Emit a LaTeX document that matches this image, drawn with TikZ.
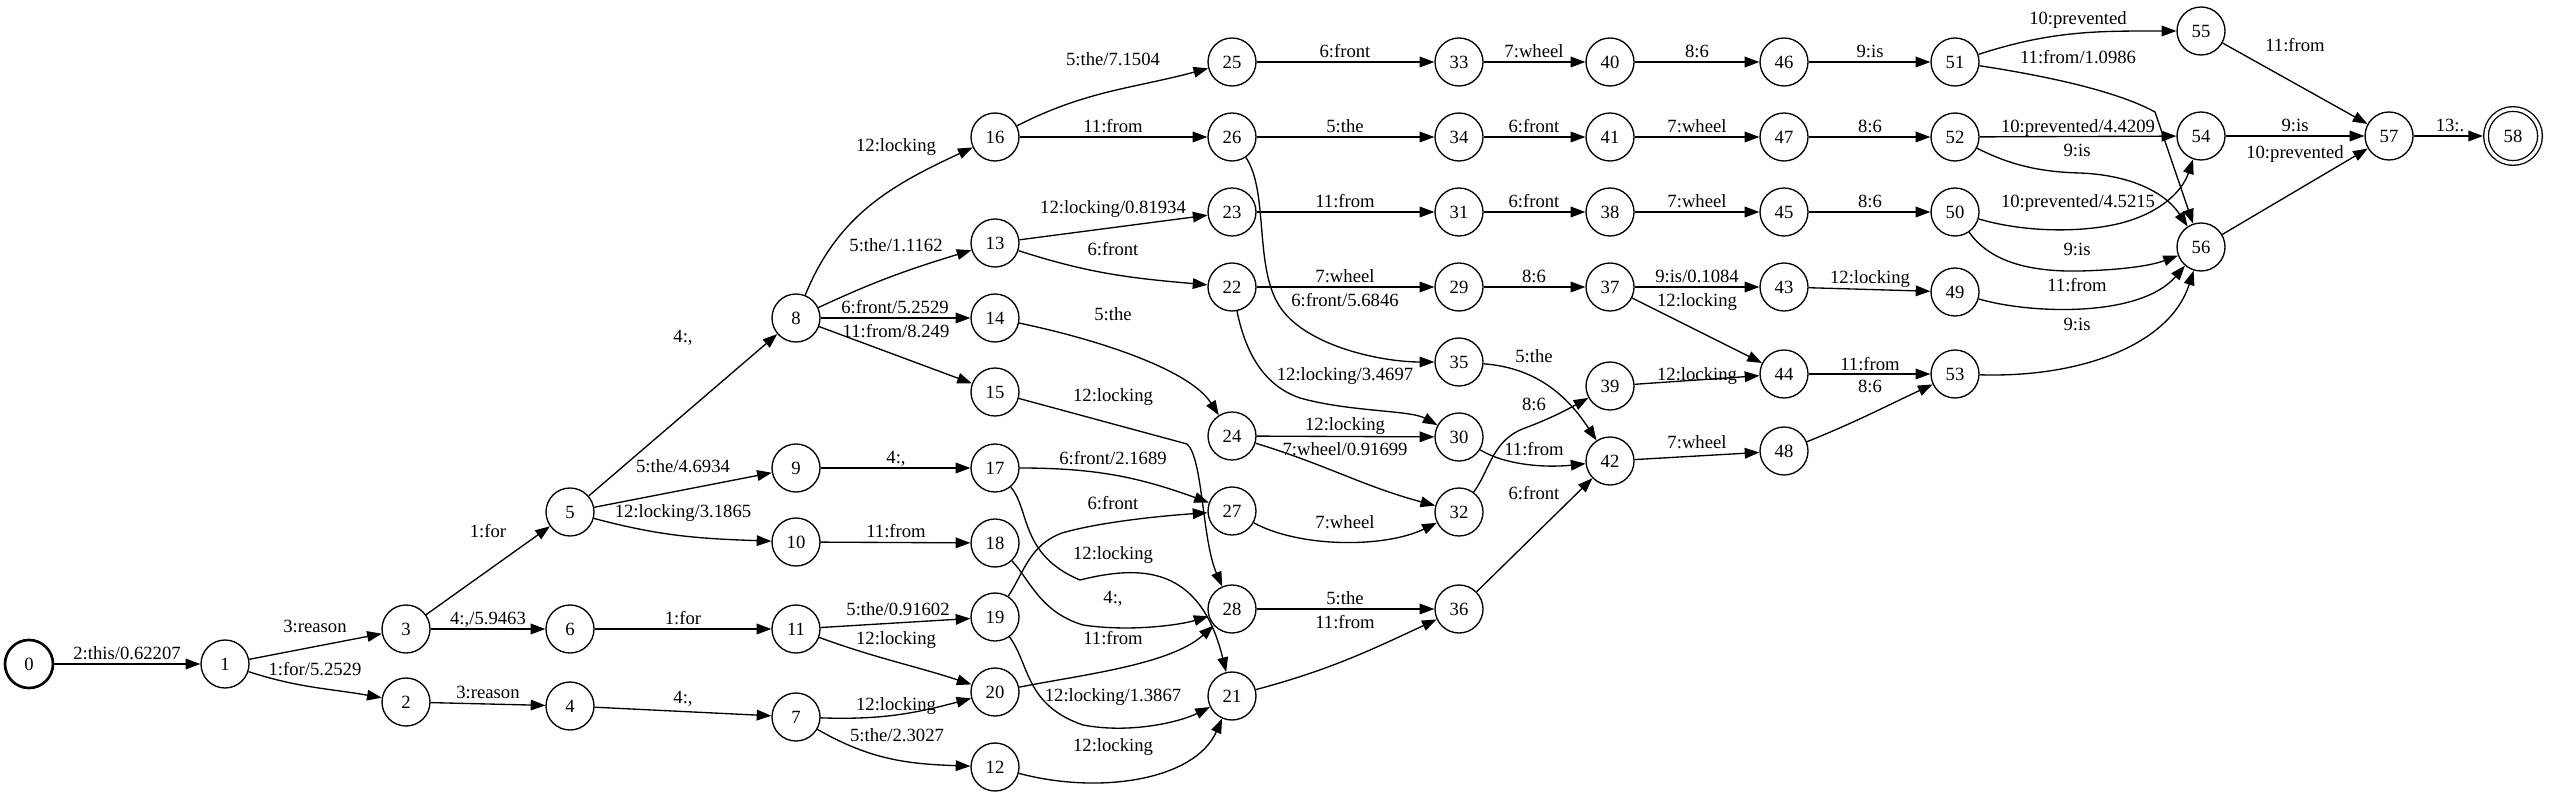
\documentclass[tikz,border=0pt]{standalone}
\usepackage{fontspec}
\setmainfont{Liberation Serif}
\usetikzlibrary{arrows.meta}
\begin{document}
\begin{tikzpicture}[x=0.75pt,y=-0.75pt,
  st/.style={circle,draw,line width=1pt,minimum size=36pt,inner sep=0pt,font=\fontsize{14}{16}\selectfont},
  ini/.style={st,line width=2pt},
  fin/.style={st,minimum size=40.5pt,double,double distance=2.5pt,outer sep=2.25pt},
  edge/.style={-{Triangle[length=11pt,width=8pt]},line width=1pt},
  lbl/.style={font=\fontsize{14}{16}\selectfont,inner sep=0pt,text height=10pt,text depth=3pt}]
\useasboundingbox (0,0) rectangle (2550,798);
% states
\node[ini] (n0) at (29,664) {0};
\node[st] (n1) at (225,664) {1};
\node[st] (n3) at (406,629) {3};
\node[st] (n2) at (406,702) {2};
\node[st] (n5) at (570,512) {5};
\node[st] (n6) at (570,629) {6};
\node[st] (n4) at (570,706) {4};
\node[st] (n8) at (796,318) {8};
\node[st] (n9) at (796,468) {9};
\node[st] (n10) at (796,542) {10};
\node[st] (n11) at (796,629) {11};
\node[st] (n7) at (796,717) {7};
\node[st] (n16) at (995,137) {16};
\node[st] (n13) at (995,243) {13};
\node[st] (n14) at (995,318) {14};
\node[st] (n15) at (995,392) {15};
\node[st] (n17) at (995,468) {17};
\node[st] (n18) at (995,543) {18};
\node[st] (n19) at (995,617) {19};
\node[st] (n20) at (995,692) {20};
\node[st] (n12) at (995,767) {12};
\node[st] (n25) at (1232,62) {25};
\node[st] (n26) at (1232,137) {26};
\node[st] (n23) at (1232,212) {23};
\node[st] (n22) at (1232,287) {22};
\node[st] (n24) at (1232,436) {24};
\node[st] (n27) at (1232,511) {27};
\node[st] (n28) at (1232,609) {28};
\node[st] (n21) at (1232,696) {21};
\node[st] (n33) at (1459,62) {33};
\node[st] (n34) at (1459,137) {34};
\node[st] (n31) at (1459,212) {31};
\node[st] (n29) at (1459,287) {29};
\node[st] (n35) at (1459,362) {35};
\node[st] (n30) at (1459,437) {30};
\node[st] (n32) at (1459,512) {32};
\node[st] (n36) at (1459,609) {36};
\node[st] (n40) at (1610,62) {40};
\node[st] (n41) at (1610,137) {41};
\node[st] (n38) at (1610,212) {38};
\node[st] (n37) at (1610,287) {37};
\node[st] (n39) at (1610,386) {39};
\node[st] (n42) at (1610,461) {42};
\node[st] (n46) at (1784,62) {46};
\node[st] (n47) at (1784,137) {47};
\node[st] (n45) at (1784,212) {45};
\node[st] (n43) at (1784,287) {43};
\node[st] (n44) at (1784,374) {44};
\node[st] (n48) at (1784,451) {48};
\node[st] (n51) at (1955,62) {51};
\node[st] (n52) at (1955,137) {52};
\node[st] (n50) at (1955,212) {50};
\node[st] (n49) at (1955,292) {49};
\node[st] (n53) at (1955,374) {53};
\node[st] (n55) at (2201,31) {55};
\node[st] (n54) at (2201,136) {54};
\node[st] (n56) at (2201,247) {56};
\node[st] (n57) at (2389,136) {57};
\node[fin] (n58) at (2513,136) {58};
% arcs
\draw[edge] (n0) -- (n1);
\draw[edge] (n1) -- (n3);
\draw[edge] (n1) to[out=-18,in=170] (n2);
\draw[edge] (n3) -- (n5);
\draw[edge] (n3) -- (n6);
\draw[edge] (n2) -- (n4);
\draw[edge] (n5) -- (n8);
\draw[edge] (n5) -- (n9);
\draw[edge] (n5) to[out=-15,in=178] (n10);
\draw[edge] (n6) -- (n11);
\draw[edge] (n4) -- (n7);
\draw[edge] (n8) to[out=68,in=205] (n16);
\draw[edge] (n8) to[out=25,in=197] (n13);
\draw[edge] (n8) -- (n14);
\draw[edge] (n8) -- (n15);
\draw[edge] (n9) -- (n17);
\draw[edge] (n10) -- (n18);
\draw[edge] (n11) -- (n19);
\draw[edge] (n11) to[out=-20,in=162] (n20);
\draw[edge] (n7) to[out=-2,in=195] (n20);
\draw[edge] (n7) to[out=-30,in=178] (n12);
\draw[edge] (n16) to[out=27,in=195] (n25);
\draw[edge] (n16) -- (n26);
\draw[edge] (n13) -- (n23);
\draw[edge] (n13) to[out=-18,in=175] (n22);
\draw[edge] (n14) .. controls (1100,340) and (1190,370) .. (n24);
\draw[edge] (n15) -- (1187,444) .. controls (1203,458) and (1202,540) .. (n28);
\draw[edge] (n17) to[out=0,in=160] (n27);
\draw[edge] (n17) .. controls (1030,510) and (1020,555) .. (1080,580) .. controls (1140,565) and (1200,565) .. (n21);
\draw[edge] (n18) .. controls (1030,580) and (1040,612) .. (1083,625) .. controls (1130,632) and (1180,625) .. (n28);
\draw[edge] (n19) .. controls (1025,570) and (1030,545) .. (1062,533) .. controls (1100,522) and (1160,516) .. (n27);
\draw[edge] (n19) .. controls (1030,665) and (1025,705) .. (1083,725) .. controls (1130,734) and (1180,722) .. (n21);
\draw[edge] (n20) .. controls (1080,675) and (1170,665) .. (n28);
\draw[edge] (n12) .. controls (1100,795) and (1195,780) .. (n21);
\draw[edge] (n25) -- (n33);
\draw[edge] (n26) -- (n34);
\draw[edge] (n23) -- (n31);
\draw[edge] (n22) -- (n29);
\draw[edge] (n26) .. controls (1268,190) and (1255,262) .. (1277,302) .. controls (1300,345) and (1380,362) .. (n35);
\draw[edge] (n22) .. controls (1245,350) and (1262,385) .. (1300,398) .. controls (1350,412) and (1410,410) .. (n30);
\draw[edge] (n24) -- (n30);
\draw[edge] (n24) to[out=-17,in=165] (n32);
\draw[edge] (n27) .. controls (1300,548) and (1385,548) .. (n32);
\draw[edge] (n28) -- (n36);
\draw[edge] (n21) to[out=15,in=205] (n36);
\draw[edge] (n33) -- (n40);
\draw[edge] (n34) -- (n41);
\draw[edge] (n31) -- (n38);
\draw[edge] (n29) -- (n37);
\draw[edge] (n35) .. controls (1540,368) and (1570,400) .. (n42);
\draw[edge] (n30) .. controls (1505,465) and (1545,468) .. (n42);
\draw[edge] (n32) .. controls (1490,470) and (1492,440) .. (1525,428) .. controls (1552,418) and (1570,408) .. (n39);
\draw[edge] (n36) -- (n42);
\draw[edge] (n40) -- (n46);
\draw[edge] (n41) -- (n47);
\draw[edge] (n38) -- (n45);
\draw[edge] (n37) -- (n43);
\draw[edge] (n37) -- (n44);
\draw[edge] (n39) -- (n44);
\draw[edge] (n42) -- (n48);
\draw[edge] (n46) -- (n51);
\draw[edge] (n47) -- (n52);
\draw[edge] (n45) -- (n50);
\draw[edge] (n43) -- (n49);
\draw[edge] (n44) -- (n53);
\draw[edge] (n48) to[out=22,in=205] (n53);
\draw[edge] (n51) to[out=18,in=180] (n55);
\draw[edge] (n51) .. controls (2040,75) and (2115,90) .. (2155,112) -- (n56);
\draw[edge] (n52) -- (n54);
\draw[edge] (n52) .. controls (2010,165) and (2040,172) .. (2080,173) .. controls (2130,175) and (2165,192) .. (n56);
\draw[edge] (n50) .. controls (2030,234) and (2090,232) .. (2125,222) .. controls (2160,212) and (2182,192) .. (n54);
\draw[edge] (n50) .. controls (1990,262) and (2030,272) .. (2080,271) .. controls (2120,270) and (2150,266) .. (n56);
\draw[edge] (n49) .. controls (2030,314) and (2140,318) .. (n56);
\draw[edge] (n53) .. controls (2080,378) and (2170,345) .. (n56);
\draw[edge] (n55) -- (n57);
\draw[edge] (n54) -- (n57);
\draw[edge] (n56) -- (n57);
\draw[edge] (n57) -- (n58);
% labels
\node[lbl] (l0-1) at (127,655) {2:this/0.62207};
\node[lbl] (l1-3) at (315,628) {3:reason};
\node[lbl] (l1-2) at (315,671) {1:for/5.2529};
\node[lbl] (l3-5) at (488,533) {1:for};
\node[lbl] (l3-6) at (488,620) {4:,/5.9463};
\node[lbl] (l2-4) at (488,694) {3:reason};
\node[lbl] (l5-8) at (683,338) {4:,};
\node[lbl] (l5-9) at (683,468) {5:the/4.6934};
\node[lbl] (l5-10) at (683,513) {12:locking/3.1865};
\node[lbl] (l6-11) at (683,620) {1:for};
\node[lbl] (l4-7) at (683,699) {4:,};
\node[lbl] (l8-16) at (896,147) {12:locking};
\node[lbl] (l8-13) at (896,247) {5:the/1.1162};
\node[lbl] (l8-14) at (895,309) {6:front/5.2529};
\node[lbl] (l8-15) at (896,333) {11:from/8.249};
\node[lbl] (l9-17) at (896,459) {4:,};
\node[lbl] (l10-18) at (896,533) {11:from};
\node[lbl] (l11-19) at (898,611) {5:the/0.91602};
\node[lbl] (l11-20) at (896,640) {12:locking};
\node[lbl] (l7-20) at (896,706) {12:locking};
\node[lbl] (l7-12) at (897,737) {5:the/2.3027};
\node[lbl] (l16-25) at (1113,61) {5:the/7.1504};
\node[lbl] (l16-26) at (1113,128) {11:from};
\node[lbl] (l13-23) at (1113,209) {12:locking/0.81934};
\node[lbl] (l13-22) at (1113,251) {6:front};
\node[lbl] (l14-24) at (1113,316) {5:the};
\node[lbl] (l15-28) at (1113,397) {12:locking};
\node[lbl] (l17-27) at (1113,460) {6:front/2.1689};
\node[lbl] (l19-27) at (1113,505) {6:front};
\node[lbl] (l17-21) at (1113,555) {12:locking};
\node[lbl] (l18-28) at (1113,599) {4:,};
\node[lbl] (l20-28) at (1113,640) {11:from};
\node[lbl] (l19-21) at (1113,697) {12:locking/1.3867};
\node[lbl] (l12-21) at (1113,747) {12:locking};
\node[lbl] (l25-33) at (1345,53) {6:front};
\node[lbl] (l26-34) at (1345,128) {5:the};
\node[lbl] (l23-31) at (1345,203) {11:from};
\node[lbl] (l22-29) at (1345,278) {7:wheel};
\node[lbl] (l26-35) at (1345,302) {6:front/5.6846};
\node[lbl] (l22-30) at (1345,376) {12:locking/3.4697};
\node[lbl] (l24-30) at (1345,426) {12:locking};
\node[lbl] (l24-32) at (1345,451) {7:wheel/0.91699};
\node[lbl] (l27-32) at (1345,524) {7:wheel};
\node[lbl] (l28-36) at (1345,600) {5:the};
\node[lbl] (l21-36) at (1345,624) {11:from};
\node[lbl] (l33-40) at (1534,53) {7:wheel};
\node[lbl] (l34-41) at (1534,128) {6:front};
\node[lbl] (l31-38) at (1534,203) {6:front};
\node[lbl] (l29-37) at (1534,278) {8:6};
\node[lbl] (l35-42) at (1534,358) {5:the};
\node[lbl] (l32-39) at (1534,406) {8:6};
\node[lbl] (l30-42) at (1534,451) {11:from};
\node[lbl] (l36-42) at (1534,495) {6:front};
\node[lbl] (l40-46) at (1697,53) {8:6};
\node[lbl] (l41-47) at (1697,128) {7:wheel};
\node[lbl] (l38-45) at (1697,203) {7:wheel};
\node[lbl] (l37-43) at (1697,278) {9:is/0.1084};
\node[lbl] (l37-44) at (1697,302) {12:locking};
\node[lbl] (l39-44) at (1697,376) {12:locking};
\node[lbl] (l42-48) at (1697,444) {7:wheel};
\node[lbl] (l46-51) at (1870,53) {9:is};
\node[lbl] (l47-52) at (1870,128) {8:6};
\node[lbl] (l45-50) at (1870,203) {8:6};
\node[lbl] (l43-49) at (1870,279) {12:locking};
\node[lbl] (l44-53) at (1870,366) {11:from};
\node[lbl] (l48-53) at (1870,388) {8:6};
\node[lbl] (l51-55) at (2078,20) {10:prevented};
\node[lbl] (l51-56) at (2078,59) {11:from/1.0986};
\node[lbl] (l52-54) at (2078,128) {10:prevented/4.4209};
\node[lbl] (l52-56) at (2077,152) {9:is};
\node[lbl] (l50-54) at (2078,203) {10:prevented/4.5215};
\node[lbl] (l50-56) at (2077,251) {9:is};
\node[lbl] (l49-56) at (2077,287) {11:from};
\node[lbl] (l53-56) at (2077,326) {9:is};
\node[lbl] (l55-57) at (2295,47) {11:from};
\node[lbl] (l54-57) at (2295,127) {9:is};
\node[lbl] (l56-57) at (2295,154) {10:prevented};
\node[lbl] (l57-58) at (2450,127) {13:.};
\end{tikzpicture}
\end{document}
